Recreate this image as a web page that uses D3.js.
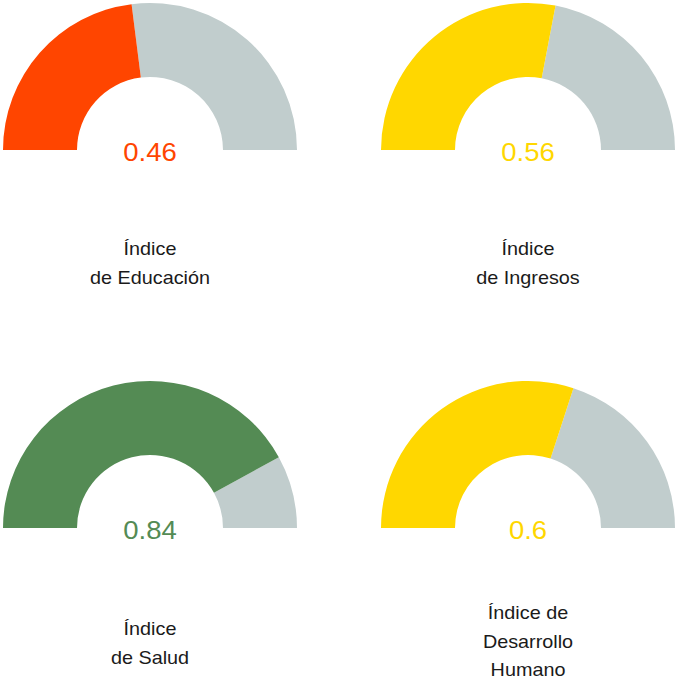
<!DOCTYPE html>
<html>
<head>
<meta charset="utf-8">
<script src="https://cdn.jsdelivr.net/npm/d3@7"></script>
<style>
  body { margin: 0; background: #fff; }
  svg { display: block; }
</style>
</head>
<body>
<svg id="chart" width="676" height="680"></svg>
<script>
// gauge data
var labels = [["Índice", "de Educación"], ["Índice", "de Ingresos"], ["Índice", "de Salud"], ["Índice de", "Desarrollo", "Humano"]];
var values = [0.46, 0.56, 0.84, 0.6];
var colors = ["#FF4500", "#FFD700", "#548B54", "#FFD700"];
var restColor = "#C1CDCD";

var outerR = 147;
var innerR = 73;
var centers = [[150, 150], [528, 150], [150, 528], [528, 528]];
var stretch = 1.1; // text in the original is a bit wider than normal

var svg = d3.select("#chart");

var angle = d3.scaleLinear()
    .domain([0, 1])
    .range([-Math.PI / 2, Math.PI / 2]);

var arc = d3.arc()
    .innerRadius(innerR)
    .outerRadius(outerR);

values.forEach(function(v, i) {
    var g = svg.append("g")
        .attr("transform", `translate(${centers[i][0]}, ${centers[i][1]})`);

    // the rest of the scale
    g.append("path")
        .attr("d", arc({startAngle: angle(v), endAngle: angle(1)}))
        .attr("fill", restColor);

    // value part
    g.append("path")
        .attr("d", arc({startAngle: angle(0), endAngle: angle(v)}))
        .attr("fill", colors[i]);

    var t = g.append("g")
        .attr("transform", `scale(${stretch}, 1)`)
        .attr("font-family", "Liberation Sans, Arial, sans-serif")
        .attr("text-anchor", "middle");

    t.append("text")
        .attr("x", 0)
        .attr("y", 11)
        .attr("font-size", 25)
        .attr("fill", colors[i])
        .text(v);

    var lines = labels[i];
    var lineH = 28.5;
    var mid = i < 2 ? 119.5 : (lines.length > 2 ? 120 : 121.5);
    var top = mid - (lines.length - 1) * lineH / 2;
    t.append("text")
        .attr("font-size", 18)
        .attr("fill", "#1a1a1a")
        .selectAll("tspan")
        .data(lines)
        .enter()
        .append("tspan")
        .attr("x", 0)
        .attr("y", function(d, j) { return top + j * lineH; })
        .text(function(d) { return d; });
});
</script>
</body>
</html>
